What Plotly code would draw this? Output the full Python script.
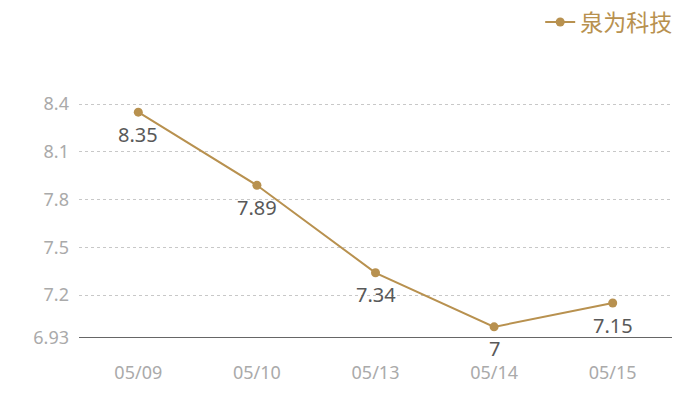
import plotly.graph_objects as go

dates = ["05/09", "05/10", "05/13", "05/14", "05/15"]
prices = [8.35, 7.89, 7.34, 7.0, 7.15]
labels = ["8.35", "7.89", "7.34", "7", "7.15"]
series_name = "泉为科技"
y_ticks = [6.93, 7.2, 7.5, 7.8, 8.1, 8.4, 8.42]
y_ticktext = ["6.93", "7.2", "7.5", "7.8", "8.1", "8.4", ""]

gold = "#b8914f"

fig = go.Figure()
fig.add_trace(go.Scatter(
    x=dates, y=prices, name=series_name,
    mode="lines+markers",
    line=dict(color=gold, width=2),
    marker=dict(color=gold, size=9),
    cliponaxis=False,
))

for d, p, t in zip(dates, prices, labels):
    fig.add_annotation(x=d, y=p, text=t, showarrow=False, yshift=-22,
                       font=dict(size=20, color="#595959", family="Noto Sans"))

fig.update_layout(
    width=700, height=400,
    margin=dict(l=71, r=36, t=93, b=70, autoexpand=False),
    paper_bgcolor="white", plot_bgcolor="white",
    font=dict(family="Noto Sans, Noto Sans CJK SC", color="#aaaaaa", size=18),
    showlegend=True,
    legend=dict(xref="container", yref="container", x=0.956, xanchor="right",
                y=0.965, yanchor="middle",
                font=dict(size=23, color=gold, family="Noto Sans CJK SC"),
                bgcolor="rgba(0,0,0,0)"),
    xaxis=dict(type="category", range=[-0.5, 4.5], showgrid=False,
               showline=False, zeroline=False, ticks="", ticklabelstandoff=22,
               tickfont=dict(size=18, color="#aaaaaa")),
    yaxis=dict(range=[6.93, 8.42], tickvals=y_ticks, ticktext=y_ticktext,
               showgrid=True, gridcolor="#c8c8c8", griddash="dot", gridwidth=1,
               zeroline=False, showline=False, ticks="", ticklabelstandoff=9,
               tickfont=dict(size=18, color="#aaaaaa")),
)
fig.add_shape(type="line", xref="paper", yref="y", x0=0, x1=1, y0=6.93, y1=6.93,
              line=dict(color="#333333", width=1.5))

fig.write_html("out.html")
